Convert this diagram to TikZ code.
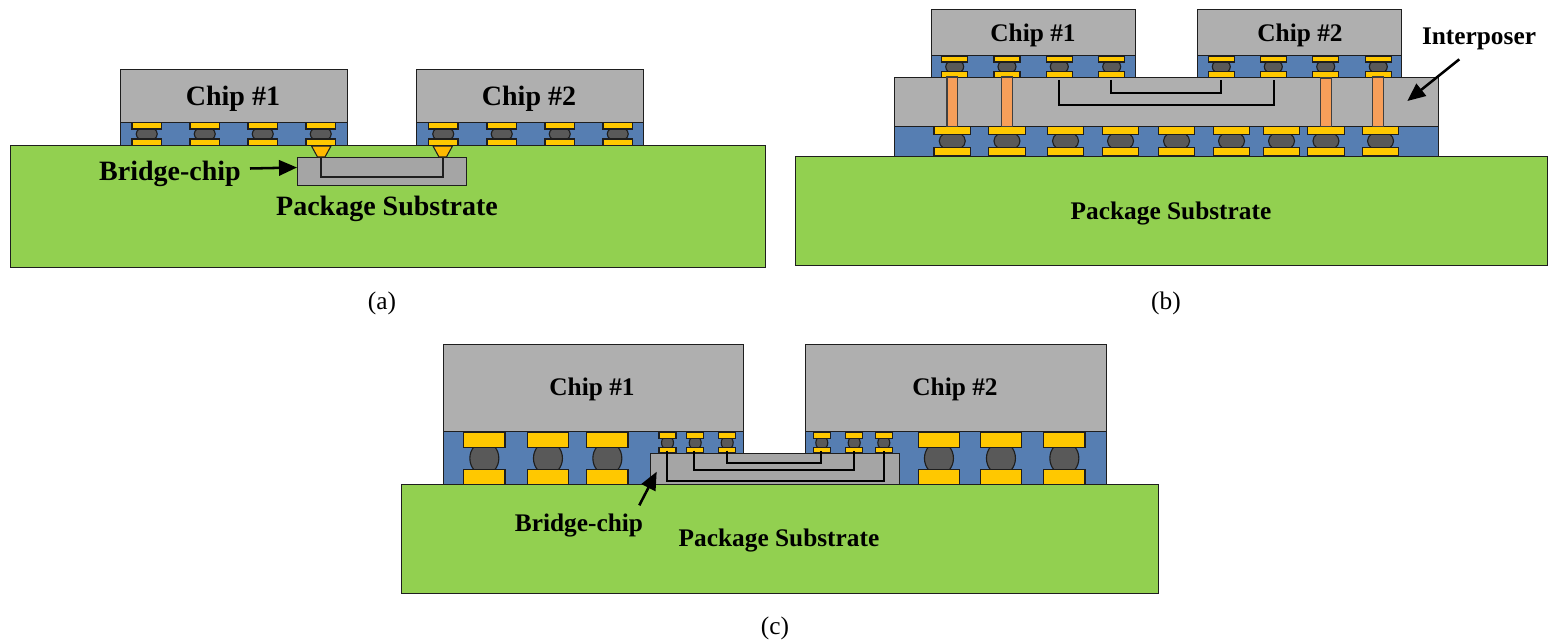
\documentclass[tikz,border=0pt]{standalone}
\usepackage{fontspec}
\setmainfont{Liberation Serif}
\usetikzlibrary{arrows.meta}
\definecolor{chipc}{HTML}{AFAFAF}
\definecolor{bluec}{HTML}{567EB2}
\definecolor{padc}{HTML}{FFC800}
\definecolor{bumpc}{HTML}{595959}
\definecolor{subc}{HTML}{92D050}
\definecolor{bridgec}{HTML}{A5A5A5}
\definecolor{pillarc}{HTML}{F79F5A}
\definecolor{wedgec}{HTML}{FFB900}
\definecolor{linec}{HTML}{1E1E1E}
\tikzset{
  block/.style={draw=linec,line width=0.75pt,line join=miter},
  chipbox/.style={block,fill=chipc},
  underfill/.style={block,fill=bluec},
  substrate/.style={block,fill=subc},
  bridgebox/.style={block,fill=bridgec},
  padbox/.style={draw=linec,line width=0.85pt,fill=padc},
  bumpball/.style={draw=linec,line width=0.85pt,fill=bumpc},
  pillarbar/.style={draw=linec!85,line width=0.85pt,fill=pillarc},
  wedgebox/.style={draw=linec,line width=0.8pt,fill=wedgec},
  wire/.style={draw=black,line width=1.5pt,line join=miter},
  thinwire/.style={draw=linec,line width=1pt,line join=miter},
  callout/.style={draw=black,line width=1.9pt,-{Triangle[length=13.5pt,width=11.5pt]},shorten >=0pt},
  lab28/.style={font=\fontsize{21}{21}\selectfont\bfseries,inner sep=0pt,text=black},
  lab25/.style={font=\fontsize{19}{19}\selectfont\bfseries,inner sep=0pt,text=black},
  caplabel/.style={font=\fontsize{19}{19}\selectfont,inner sep=0pt},
}
% #1 left x, #2 pad width, #3 top pad top, #4 top pad bottom, #5 bottom pad top, #6 bottom pad bottom, #7 bump width
\newcommand{\bumpset}[7]{%
  \pgfmathsetmacro{\bcx}{#1+#2/2}%
  \pgfmathsetmacro{\bcy}{(#4+#5)/2}%
  \pgfmathsetmacro{\bry}{(#5-#4)*0.75}%
  \path[bumpball] (\bcx,\bcy) ellipse [x radius=#7/2,y radius=\bry];
  \path[padbox] (#1,#3) rectangle ++(#2,#4-#3);
  \path[padbox] (#1,#5) rectangle ++(#2,#6-#5);
}
\begin{document}
\begin{tikzpicture}[x=0.75pt,y=-0.75pt]
\useasboundingbox (0,0) rectangle (1549,642);
% ===== (a) =====
\path[chipbox] (120.5,70) rectangle (347,122);
\path[chipbox] (416.5,70) rectangle (643,122);
\path[underfill] (120.5,122) rectangle (347,146);
\path[underfill] (416.5,122) rectangle (643,146);
\foreach \x in {132,190,248,306,428.5,487,545,603}{\bumpset{\x}{29.5}{122.5}{129}{139}{145.5}{21}}
\path[substrate] (10,145.5) rectangle (765,267);
\path[bridgebox] (297,157) rectangle (466,185.5);
\path[thinwire] (321,157) -- (321,177) -- (443,177) -- (443,157);
\path[wedgebox] (311.5,146) -- (331,146) -- (325,157) -- (317.5,157) -- cycle;
\path[wedgebox] (433,146) -- (452.5,146) -- (446.5,157) -- (439,157) -- cycle;
\node[lab28] (a1) at (233,99) {Chip \#1};
\node[lab28] (a2) at (529,99) {Chip \#2};
\node[lab28] (abr) at (170,174) {Bridge-chip};
\node[lab28] (asub) at (387,209) {Package Substrate};
\node[caplabel] (capa) at (382,303) {(a)};
\coordinate (aS) at (250,168.5);
\coordinate (aT) at (297,167.5);
\draw[callout] (aS) -- (aT);
% ===== (b) =====
\path[chipbox] (931,9.5) rectangle (1135,56);
\path[chipbox] (1197.5,9.5) rectangle (1401.5,56);
\path[underfill] (931,56) rectangle (1135,78);
\path[underfill] (1197.5,56) rectangle (1401.5,78);
\foreach \x in {941.7,994,1046.3,1098.7,1208.3,1260.3,1312.7,1365.3}{\bumpset{\x}{26}{56.5}{62}{71.5}{77.5}{18}}
\path[chipbox] (894.5,77.5) rectangle (1438,126.5);
\path[underfill] (894.5,126.5) rectangle (1438,156);
\foreach \x in {934,988.7,1047.3,1102.3,1158.3,1213.3,1263.3,1307.7,1362.3}{\bumpset{\x}{36.5}{126.5}{134.5}{147.5}{155.7}{26}}
\path[substrate] (795,156) rectangle (1547,265);
\path[pillarbar] (947,77) rectangle (957.7,126.5);
\path[pillarbar] (1001.5,77) rectangle (1012.3,126.5);
\path[pillarbar] (1320.3,78) rectangle (1331.3,126.5);
\path[pillarbar] (1372.7,77) rectangle (1383.3,126.5);
\path[wire] (1059,80) -- (1059,105) -- (1273.7,105) -- (1273.7,80);
\path[wire] (1111,80) -- (1111,93.3) -- (1221.3,93.3) -- (1221.3,80);
\node[lab25] (b1) at (1033,35.5) {Chip \#1};
\node[lab25] (b2) at (1300,35.5) {Chip \#2};
\node[lab25] (bint) at (1479,39) {Interposer};
\node[lab25] (bsub) at (1171,214) {Package Substrate};
\node[caplabel] (capb) at (1166,303) {(b)};
\coordinate (bS) at (1459.3,59.3);
\coordinate (bT) at (1407.3,101);
\draw[callout] (bS) -- (bT);
% ===== (c) =====
\path[chipbox] (443,344.5) rectangle (743.5,431.5);
\path[chipbox] (805.5,344.5) rectangle (1106,431.5);
\path[underfill] (443,431.5) rectangle (743.5,485);
\path[underfill] (805.5,431.5) rectangle (1106,485);
\foreach \x in {463.7,527.3,586.7,918.3,980.3,1043.7}{\bumpset{\x}{41.3}{432.5}{447.3}{469.3}{484.3}{29}}
\foreach \x in {659,686.7,718.7,813.3,845.7,875.3}{\bumpset{\x}{17}{432.7}{438.3}{447.3}{453}{12}}
\path[substrate] (401.5,484.5) rectangle (1158,593);
\path[bridgebox] (650,453) rectangle (899,484.5);
\path[wire] (667.3,450.7) -- (667.3,481.3) -- (883.7,481.3) -- (883.7,450.7);
\path[wire] (694.3,450.7) -- (694.3,469.7) -- (854,469.7) -- (854,450.7);
\path[wire] (726.7,450.7) -- (726.7,463.3) -- (821.3,463.3) -- (821.3,450.7);
\node[lab25] (c1) at (592,389.5) {Chip \#1};
\node[lab25] (c2) at (955,389.5) {Chip \#2};
\node[lab25] (cbr) at (579,525.5) {Bridge-chip};
\node[lab25] (csub) at (779,540.5) {Package Substrate};
\node[caplabel] (capc) at (775,628) {(c)};
\coordinate (cS) at (639.3,505.3);
\coordinate (cT) at (656.7,471.7);
\draw[callout] (cS) -- (cT);
\end{tikzpicture}
\end{document}
